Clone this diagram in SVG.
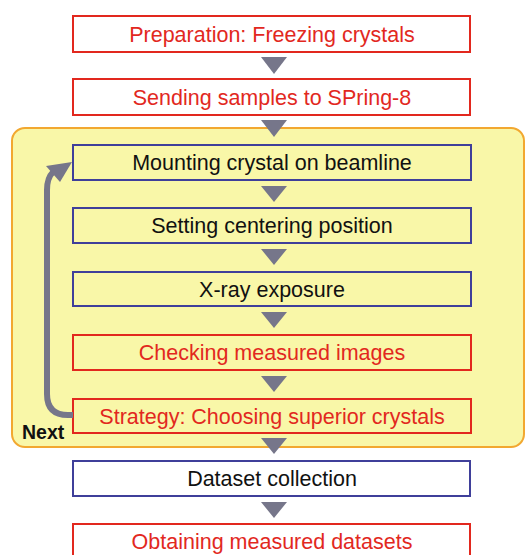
<svg xmlns="http://www.w3.org/2000/svg" width="527" height="555" viewBox="0 0 527 555">
<style>
.box{fill:#ffffff;stroke-width:2}
.yb{fill:#f9f7a8}
.red{stroke:#e2281e}
.blue{stroke:#3f3f9a}
.t{font-family:"Liberation Sans",Arial,sans-serif;font-size:21.5px;text-anchor:middle}
.tr{fill:#e2281e}
.tk{fill:#111111}
.tri{fill:#76768a}
</style>
<rect width="527" height="555" fill="#ffffff"/>
<g id="panel">
<rect x="12" y="128" width="512" height="319" rx="13" fill="#f9f7a8" stroke="#f2a830" stroke-width="2"/>
</g>
<g id="n1"><rect class="box red" x="73" y="16" width="397" height="36"/><text class="t tr" x="272" y="41.5">Preparation: Freezing crystals</text></g>
<g id="n2"><rect class="box red" x="73" y="79" width="397" height="36"/><text class="t tr" x="272" y="104.5">Sending samples to SPring-8</text></g>
<g id="n3"><rect class="box yb blue" x="73" y="145" width="398" height="35"/><text class="t tk" x="272" y="170">Mounting crystal on beamline</text></g>
<g id="n4"><rect class="box yb blue" x="73" y="208" width="398" height="35"/><text class="t tk" x="272" y="233">Setting centering position</text></g>
<g id="n5"><rect class="box yb blue" x="73" y="272" width="398" height="34"/><text class="t tk" x="272" y="296.5">X-ray exposure</text></g>
<g id="n6"><rect class="box yb red" x="73" y="335" width="398" height="35"/><text class="t tr" x="272" y="360">Checking measured images</text></g>
<g id="n7"><rect class="box yb red" x="73" y="399" width="398" height="34"/><text class="t tr" x="272" y="423.5">Strategy: Choosing superior crystals</text></g>
<g id="n8"><rect class="box blue" x="73" y="461" width="397" height="35"/><text class="t tk" x="272" y="486">Dataset collection</text></g>
<g id="n9"><rect class="box red" x="73" y="524" width="397" height="40"/><text class="t tr" x="272" y="549">Obtaining measured datasets</text></g>
<g id="connectors">
<polygon class="tri" points="261,57 287,57 274,74"/>
<polygon class="tri" points="261,120 287,120 274,137"/>
<polygon class="tri" points="261,186 287,186 274,202"/>
<polygon class="tri" points="261,249 287,249 274,265"/>
<polygon class="tri" points="261,312 287,312 274,328"/>
<polygon class="tri" points="261,376 287,376 274,392"/>
<polygon class="tri" points="261,438 287,438 274,454"/>
<polygon class="tri" points="261,502 287,502 274,518"/>
<path d="M73,415 L68,415 Q47,415 47,394 L47,190 Q47,178 53,172" fill="none" stroke="#76768a" stroke-width="6"/>
<polygon class="tri" points="72,162 46,166 60,182"/>
<text x="22" y="439" font-family="Liberation Sans,Arial,sans-serif" font-size="19.5" font-weight="bold" fill="#111111">Next</text>
</g>
</svg>
